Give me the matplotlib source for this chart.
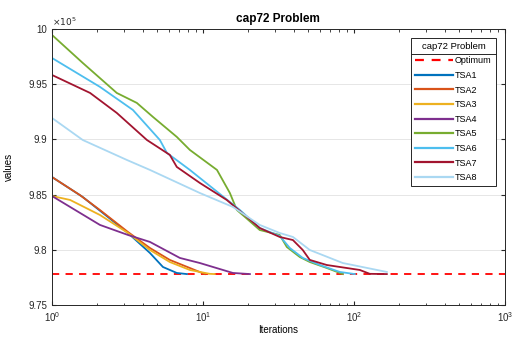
import numpy as np
import matplotlib
matplotlib.use('Agg')
import matplotlib.pyplot as plt
from matplotlib.ticker import FuncFormatter, LogLocator, NullFormatter, MultipleLocator
from matplotlib.lines import Line2D

# convergence curves (iteration, objective value)
optimum = 977799

tsa1_it = [1, 1.6, 3.19, 4.46, 5.44, 6.72, 7.83]
tsa1_val = [986590, 984780, 981520, 979710, 978440, 977900, 977799]

tsa2_it = [1, 1.53, 2.08, 3.19, 4.46, 6.04, 8.2, 10.3]
tsa2_val = [986590, 984960, 983600, 981610, 980160, 979080, 978350, 977799]

tsa3_it = [1, 1.32, 2.08, 3.19, 4.46, 6.04, 8.2, 11.1, 12.0]
tsa3_val = [984870, 984510, 983150, 981520, 979980, 978890, 978170, 977820, 977799]

tsa4_it = [1, 2.08, 3.19, 4.46, 7.04, 9.55, 15.8, 20.5]
tsa4_val = [984870, 982250, 981340, 980710, 979260, 978800, 977900, 977799]

tsa5_it = [1, 1.6, 2.69, 3.65, 4.67, 6.72, 8.2, 12.4, 15.1, 16.8, 19.0, 23.8, 32.3, 36.0, 43.9, 51.1, 66.2, 84.5]
tsa5_val = [999460, 996920, 994200, 993300, 992030, 990220, 989040, 987230, 985140, 983600,
            982970, 981790, 981340, 980250, 979340, 978890, 978350, 977799]

tsa6_it = [1, 2.08, 3.44, 5.19, 5.78, 8.2, 12.0, 17.6, 23.8, 32.3, 37.7, 45.9, 59.5, 80.8, 101.6]
tsa6_val = [997370, 994750, 992660, 989940, 988770, 987230, 985420, 983600, 981970, 981250,
            980160, 979260, 978620, 977990, 977799]

tsa7_it = [1, 1.79, 2.69, 4.26, 6.04, 6.72, 9.55, 14.4, 19.6, 23.8, 32.3, 39.5, 45.9, 51.1, 66.2, 109.6, 127.6, 165.5]
tsa7_val = [995830, 994200, 992390, 989940, 988590, 987500, 986050, 984510, 982970, 981970,
            981160, 980880, 979980, 979080, 978620, 978170, 977820, 977799]

tsa8_it = [1, 1.6, 3.14, 4.46, 9.55, 15.8, 23.8, 32.3, 39.5, 51.1, 84.5, 165.5]
tsa8_val = [991940, 989940, 988130, 987230, 985140, 983880, 982250, 981520, 981160, 979980, 978800, 977990]

series = [
    ('TSA1', tsa1_it, tsa1_val, '#0072bd'),
    ('TSA2', tsa2_it, tsa2_val, '#d95319'),
    ('TSA3', tsa3_it, tsa3_val, '#edb120'),
    ('TSA4', tsa4_it, tsa4_val, '#7e2f8e'),
    ('TSA5', tsa5_it, tsa5_val, '#77ac30'),
    ('TSA6', tsa6_it, tsa6_val, '#4dbeee'),
    ('TSA7', tsa7_it, tsa7_val, '#a2142f'),
    ('TSA8', tsa8_it, tsa8_val, '#aad8f2'),
]

plt.rcParams['font.family'] = 'Liberation Sans'
plt.rcParams['xtick.direction'] = 'in'
plt.rcParams['ytick.direction'] = 'in'

fig = plt.figure(figsize=(5.14, 3.4), dpi=100)
ax = fig.add_axes([0.101, 0.103, 0.881, 0.812])

ax.plot([1, 1000], [optimum, optimum], '--', color='#ff0000', lw=1.3, dashes=(4, 3.5), label='Optimum')
for name, it, val, c in series:
    ax.plot(it, val, color=c, lw=1.3, label=name)

ax.set_xscale('log')
ax.set_xlim(1, 1000)
ax.set_ylim(975000, 1000000)
ax.yaxis.set_major_locator(MultipleLocator(5000))
ax.yaxis.set_major_formatter(FuncFormatter(lambda v, p: '%g' % round(v / 1e5, 2)))
ax.xaxis.set_major_locator(LogLocator(base=10))
ax.xaxis.set_minor_locator(LogLocator(base=10, subs=np.arange(2, 10)))
ax.xaxis.set_minor_formatter(NullFormatter())
ax.tick_params(which='both', top=True, right=True, labelsize=7, colors='#262626', length=3)
ax.tick_params(which='minor', length=1.8)
ax.grid(axis='y', color='#e6e6e6', lw=0.7)
for s in ax.spines.values():
    s.set_color('#262626')
    s.set_linewidth(0.7)

ax.text(0.0, 1.005, r'$\times10^5$', transform=ax.transAxes, fontsize=6.5, color='#262626',
        ha='left', va='bottom')
ax.set_title('cap72 Problem', fontsize=8.5, fontweight='bold', pad=5)
ax.set_xlabel('Iterations', fontsize=7, labelpad=1)
ax.set_ylabel('values', fontsize=7, labelpad=10)

leg = ax.legend(title='cap72 Problem', loc='upper right', bbox_to_anchor=(0.98, 0.968),
                fontsize=6.5, title_fontsize=6.8, handlelength=4.2, handletextpad=0.2,
                labelspacing=0.62, borderpad=0.45, borderaxespad=0, fancybox=False,
                edgecolor='#262626', framealpha=1, alignment='center')
leg.get_frame().set_linewidth(0.7)
for h in leg.get_lines():
    h.set_linewidth(1.6)

# divider under the legend title
fig.canvas.draw()
lb = leg.get_window_extent()
tb = leg.get_title().get_window_extent()
fb = leg.get_texts()[0].get_window_extent()
ymid = (tb.y0 + fb.y1) / 2
inv = fig.transFigure.inverted()
(x0, y0), (x1, _) = inv.transform([(lb.x0, ymid), (lb.x1, ymid)])
fig.add_artist(Line2D([x0, x1], [y0, y0], transform=fig.transFigure, color='#262626', lw=0.7))

fig.savefig('out.png', dpi=100)
